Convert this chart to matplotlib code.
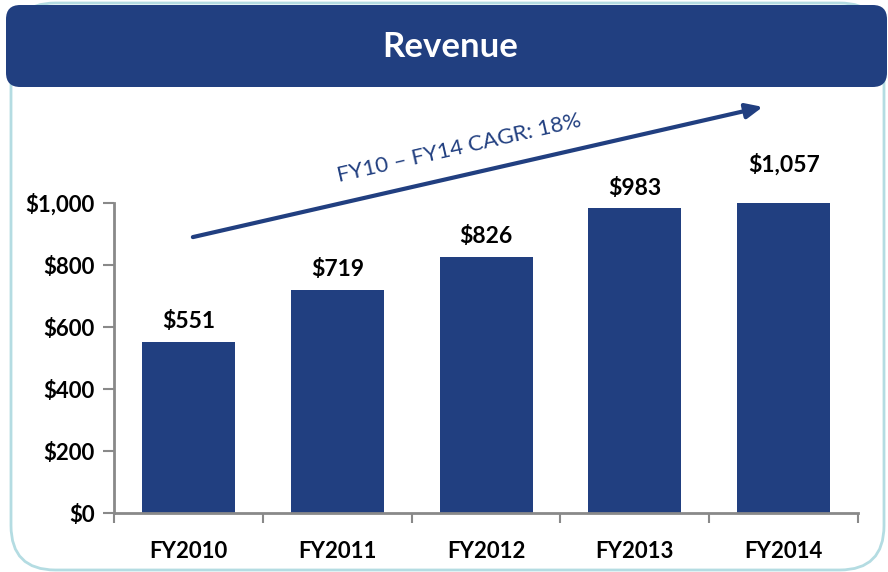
import matplotlib
matplotlib.use("Agg")
import matplotlib.pyplot as plt
from matplotlib.patches import FancyBboxPatch

# data
years = ["FY2010", "FY2011", "FY2012", "FY2013", "FY2014"]
revenue = [551, 719, 826, 983, 1057]
y_ticks = [0, 200, 400, 600, 800, 1000]
title = "Revenue"
cagr_text = "FY10 \u2013 FY14 CAGR: 18%"

NAVY = "#213F80"
AXIS_GREY = "#898989"
BORDER = "#B4DCE2"

plt.rcParams['font.family'] = ['Lato', 'DejaVu Sans']

W, H = 888, 572
fig = plt.figure(figsize=(W / 100, H / 100), dpi=100)

# outer rounded box with light teal border
outer = FancyBboxPatch((11 / W, 1 - 570 / H), (884 - 11) / W, (570 - 3) / H,
                       boxstyle="round,pad=0,rounding_size=0.05",
                       transform=fig.transFigure, facecolor="none",
                       edgecolor=BORDER, linewidth=2, mutation_aspect=W / H,
                       zorder=-5)
fig.patches.append(outer)

# header banner
banner = FancyBboxPatch((6 / W, 1 - 87 / H), (887 - 6) / W, (87 - 5) / H,
                        boxstyle="round,pad=0,rounding_size=0.016",
                        transform=fig.transFigure, facecolor=NAVY,
                        edgecolor="none", mutation_aspect=W / H, zorder=-4)
fig.patches.append(banner)
fig.text(450 / W, 1 - 47 / H, title, color="white", fontsize=25,
         fontweight="bold", ha="center", va="center")

ax = fig.add_axes([114 / W, 1 - 513 / H, (858 - 114) / W, (513 - 203) / H])
ax.set_facecolor("none")

x = list(range(len(years)))
ax.bar(x, revenue, width=0.625, color=NAVY, zorder=2)
ax.set_xlim(-0.5, len(years) - 0.5)
ax.set_ylim(0, 1000)

for xi, v in zip(x, revenue):
    ax.annotate(f"${v:,}", (xi, v), xytext=(0, 7), textcoords="offset points",
                ha="center", va="bottom", fontsize=16.5, fontweight="bold",
                color="black", annotation_clip=False)

# axes styling
for s in ["top", "right"]:
    ax.spines[s].set_visible(False)
for s in ["left", "bottom"]:
    ax.spines[s].set_color(AXIS_GREY)
    ax.spines[s].set_linewidth(2)

ax.set_yticks(y_ticks)
ax.set_yticklabels([f"${t:,}" for t in y_ticks])
ax.tick_params(axis="y", length=8, width=1.5, color=AXIS_GREY, pad=6,
               labelsize=16)
for lab in ax.get_yticklabels():
    lab.set_fontweight("bold")

ax.set_xticks(x)
ax.set_xticklabels(years, fontsize=16, fontweight="bold")
ax.tick_params(axis="x", length=0, pad=20)
ax.set_xticks([i - 0.5 for i in range(len(years) + 1)], minor=True)
ax.tick_params(axis="x", which="minor", length=7, width=1.5, color=AXIS_GREY)

# CAGR arrow
ax.annotate("", xy=(3.86, 1310), xytext=(0.03, 890),
            arrowprops=dict(arrowstyle="-|>,head_length=1.0,head_width=0.45",
                            color=NAVY, lw=3, shrinkA=0, shrinkB=0),
            annotation_clip=False)
ax.text(1.82, 1175, cagr_text, rotation=12.9, rotation_mode="anchor",
        ha="center", va="center", fontsize=16, color=NAVY, clip_on=False)

fig.savefig("out.png", dpi=100)
